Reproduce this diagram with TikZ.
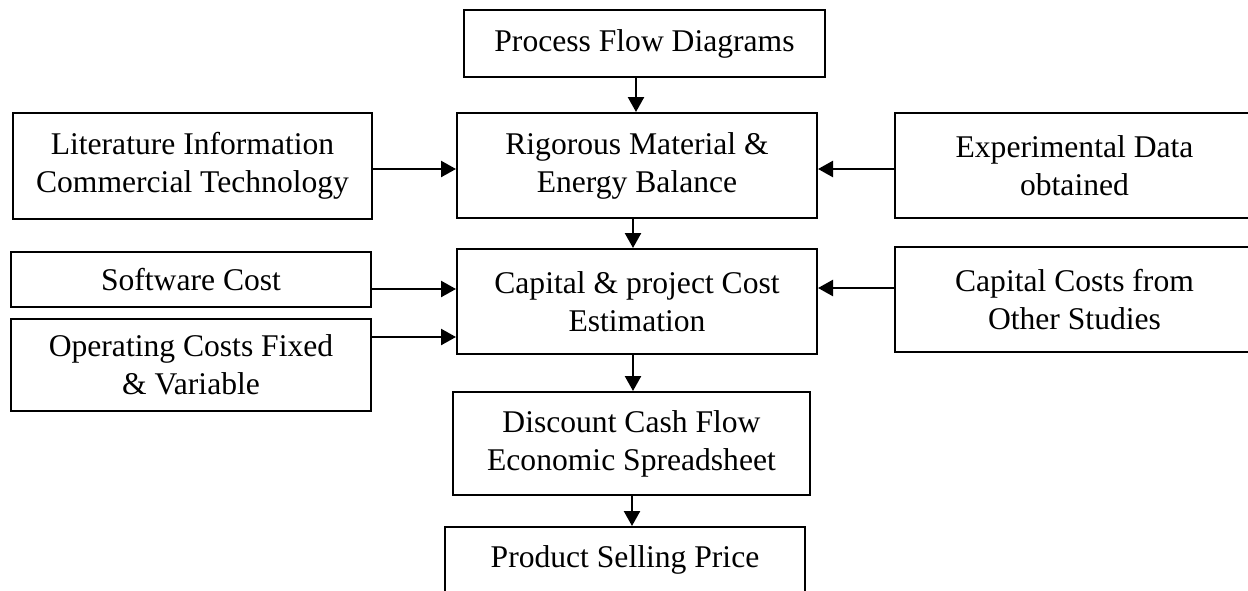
\documentclass[tikz,border=0pt]{standalone}
\usepackage{fontspec}
\setmainfont{Liberation Serif}
\usetikzlibrary{arrows.meta}
\begin{document}
\begin{tikzpicture}[x=1pt,y=-1pt,
  blk/.style={draw, line width=2pt, rectangle, inner sep=0pt, align=center,
    font=\fontsize{31.6}{38}\selectfont},
  arr/.style={line width=2.4pt, -{Triangle[length=15pt,width=16pt]}}]
\useasboundingbox (0,0) rectangle (1248,590);
\clip (0,0) rectangle (1248,590);

% main chain
\node[blk, minimum width=361pt, minimum height=67pt] (pfd) at (644.5,43.5) {Process Flow Diagrams};
\node[blk, minimum width=360pt, minimum height=105pt] (rig) at (637,165.5) {Rigorous Material \&\\Energy Balance};
\node[blk, minimum width=360pt, minimum height=105pt] (cap) at (637,301.5) {Capital \& project Cost\\Estimation};
\node[blk, minimum width=357pt, minimum height=103pt] (disc) at (631.5,443.5) {Discount Cash Flow\\Economic Spreadsheet};
\node[blk, minimum width=360pt, text height=40pt, text depth=70pt, anchor=north] (prod) at (625,526) {Product Selling Price};

% inputs on the left
\node[blk, minimum width=359pt, minimum height=106pt] (lit) at (192.5,166) {Literature Information\\Commercial Technology};
\node[blk, minimum width=360pt, minimum height=55pt] (soft) at (191,279.5) {Software Cost};
\node[blk, minimum width=360pt, minimum height=92pt] (oper) at (191,365) {Operating Costs Fixed\\\& Variable};

% inputs on the right
\node[blk, minimum width=359pt, minimum height=105pt] (exp) at (1074.5,165.5) {Experimental Data\\obtained};
\node[blk, minimum width=359pt, minimum height=105pt] (oth) at (1074.5,299.5) {Capital Costs from\\Other Studies};

% vertical flow
\draw[arr] (pfd.south -| 636,0) -- (rig.north -| 636,0);
\draw[arr] (rig.south -| 633,0) -- (cap.north -| 633,0);
\draw[arr] (cap.south -| 633,0) -- (disc.north -| 633,0);
\draw[arr] (disc.south -| 632,0) -- (prod.north -| 632,0);

% side inputs
\draw[arr] (lit.east |- 0,169) -- (rig.west |- 0,169);
\draw[arr] (exp.west |- 0,169) -- (rig.east |- 0,169);
\draw[arr] (soft.east |- 0,289) -- (cap.west |- 0,289);
\draw[arr] (oper.east |- 0,337) -- (cap.west |- 0,337);
\draw[arr] (oth.west |- 0,288) -- (cap.east |- 0,288);
\end{tikzpicture}
\end{document}
